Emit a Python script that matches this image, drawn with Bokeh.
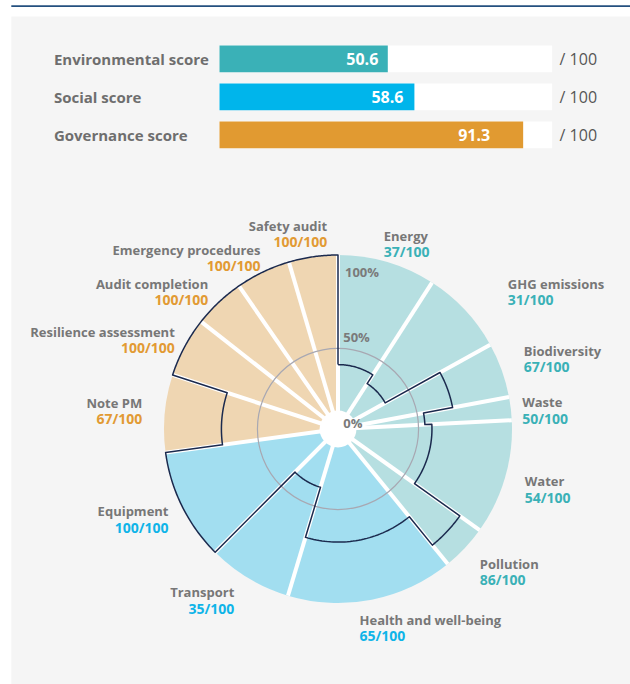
import numpy as np
from bokeh.plotting import figure
from bokeh.models import Range1d
from bokeh.core.properties import value
from bokeh.embed import file_html
from bokeh.resources import INLINE

# ---------------- data ----------------
pillars = ["Environmental score", "Social score", "Governance score"]
pillar_scores = [50.6, 58.6, 91.3]
pillar_max = 100

categories = ["Energy", "GHG emissions", "Biodiversity", "Waste", "Water", "Pollution",
              "Health and well-being", "Transport", "Equipment",
              "Note PM", "Resilience assessment", "Audit completion",
              "Emergency procedures", "Safety audit"]
category_pillar = [0, 0, 0, 0, 0, 0, 1, 1, 1, 2, 2, 2, 2, 2]
category_scores = [37, 31, 67, 50, 54, 86, 65, 35, 100, 67, 100, 100, 100, 100]
category_weights = [32.7, 28.3, 18.4, 7.7, 38.4, 15.4, 55.8, 28.2, 37.3,
                    25.9, 20.0, 17.2, 18.3, 16.4]
pct_labels = ["100%", "50%", "0%"]

# ---------------- style / layout ----------------
FONT = value("Open Sans")
W, H = 630, 684
PAGE_X0, PAGE_Y0 = 0, 0
CX, CY = 337.5, 428.5          # page position of the polar centre
S = 1.74                       # px per score unit in the polar chart
HOLE = 10.6                    # hole radius (score units)
RING = 46.3                    # grey guide circle (score units)

bar_colors = ["#3ab1b7", "#00b5eb", "#e19a31"]
light_colors = ["#b6dfe1", "#a2def0", "#efd6b2"]
score_colors = ["#3ab1b7", "#0fb4e8", "#e29a33"]
GREY = "#777777"
NAVY = "#1b2a4e"

def ux(px):
    return (px - CX) / S

def uy(py):
    return (CY - py) / S

p = figure(width=W, height=H,
           x_range=Range1d(ux(PAGE_X0), ux(PAGE_X0 + W)),
           y_range=Range1d(uy(PAGE_Y0 + H), uy(PAGE_Y0)),
           output_backend="svg", toolbar_location=None, tools="",
           x_axis_type=None, y_axis_type=None, min_border=0,
           outline_line_color=None, background_fill_color="white",
           border_fill_color="white")

# page decoration: top rule and grey panel
p.quad(left=[ux(10.8)], right=[ux(PAGE_X0 + W)], top=[uy(4.8)], bottom=[uy(6.6)],
       fill_color="#24507f", line_color=None)
p.quad(left=[ux(10.8)], right=[ux(PAGE_X0 + W)], top=[uy(16)], bottom=[uy(PAGE_Y0 + H)],
       fill_color="#f5f5f5", line_color=None)

# ---------------- pillar bars ----------------
BAR_L, BAR_R = 219.0, 551.6
bpx = (BAR_R - BAR_L) / pillar_max
ROW0, ROWSTEP = 58.3, 38.0
p.extra_x_ranges = {"bar": Range1d((PAGE_X0 - BAR_L) / bpx, (PAGE_X0 + W - BAR_L) / bpx)}
p.extra_y_ranges = {"row": Range1d((PAGE_Y0 + H - ROW0) / ROWSTEP, (PAGE_Y0 - ROW0) / ROWSTEP)}
rows = list(range(len(pillars)))
bh = 26.8 / ROWSTEP
p.hbar(y=rows, left=0, right=[pillar_max] * len(rows), height=bh,
       x_range_name="bar", y_range_name="row", fill_color="white", line_color=None)
p.hbar(y=rows, left=0, right=pillar_scores, height=bh,
       x_range_name="bar", y_range_name="row", fill_color=bar_colors, line_color=None)
p.text(x=[(53.4 - BAR_L) / bpx] * len(rows), y=rows, text=pillars,
       x_range_name="bar", y_range_name="row", text_font=FONT, text_font_style="bold",
       text_font_size="15px", text_color="#6e6e6e", text_align="left", text_baseline="middle")
p.text(x=pillar_scores, y=rows, text=[f"{v:.1f}" for v in pillar_scores],
       x_offset=[-9.5, -11, -33], x_range_name="bar", y_range_name="row",
       text_font=FONT, text_font_style="bold", text_font_size="16px",
       text_color="white", text_align="right", text_baseline="middle")
p.text(x=[pillar_max] * len(rows), y=rows, text=[f"/ {pillar_max}"] * len(rows),
       x_offset=7.5, x_range_name="bar", y_range_name="row",
       text_font=FONT, text_font_style="normal", text_font_size="16px",
       text_color="#555555", text_align="left", text_baseline="middle")

# ---------------- polar chart ----------------
w = np.array(category_weights, dtype=float)
bounds = np.concatenate([[0.0], np.cumsum(w)]) / w.sum() * 360.0   # clockwise from north
a0, a1 = bounds[:-1], bounds[1:]
p.wedge(x=0, y=0, radius=100, start_angle=np.radians(90 - a1), end_angle=np.radians(90 - a0),
        direction="anticlock",
        fill_color=[light_colors[k] for k in category_pillar], line_color=None)
p.ray(x=0, y=0, length=100, angle=np.radians(90 - a0),
      line_color="white", line_width=4)
p.circle(x=[0], y=[0], radius=HOLE, fill_color="white", line_color=None)
p.circle(x=[0], y=[0], radius=RING, fill_color=None, line_color="#a8a8b2", line_width=1.2)

xs, ys = [], []
for s, b0, b1 in zip(category_scores, a0, a1):
    t = np.radians(np.linspace(b0, b1, 40))
    xs.extend(s * np.sin(t))
    ys.extend(s * np.cos(t))
xs.append(xs[0]); ys.append(ys[0])
p.line(xs, ys, line_color=NAVY, line_width=1.5, line_join="round")

# percentage guide labels
p.text(x=[ux(344.5), ux(342.7), ux(342.7)], y=[uy(271), uy(336), uy(422.7)], text=pct_labels,
       text_font=FONT, text_font_style="bold", text_font_size="13px",
       text_color="#7a7a7a", text_align="left", text_baseline="middle")

# category labels (page anchor x, name line y, alignment)
label_layout = [
    (383.3, 235.0, "left"), (507.3, 283.3, "left"), (523.3, 350.0, "left"),
    (521.7, 401.7, "left"), (524.3, 480.7, "left"), (479.3, 563.3, "left"),
    (359.0, 619.3, "left"), (233.8, 591.7, "right"), (168.0, 510.7, "right"),
    (141.7, 402.3, "right"), (174.3, 331.0, "right"), (207.7, 283.3, "right"),
    (260.0, 249.0, "right"), (326.7, 225.0, "right"),
]
for name, sc, k, (lx, ly, al) in zip(categories, category_scores, category_pillar, label_layout):
    p.text(x=[ux(lx)], y=[uy(ly)], text=[name], text_font=FONT, text_font_style="bold",
           text_font_size="13px", text_color=GREY, text_align=al, text_baseline="middle")
    p.text(x=[ux(lx)], y=[uy(ly + 16)], text=[f"{sc}/100"], text_font=FONT,
           text_font_style="bold", text_font_size="14px", text_color=score_colors[k],
           text_align=al, text_baseline="middle")

open("out.html", "w").write(file_html(p, INLINE))
